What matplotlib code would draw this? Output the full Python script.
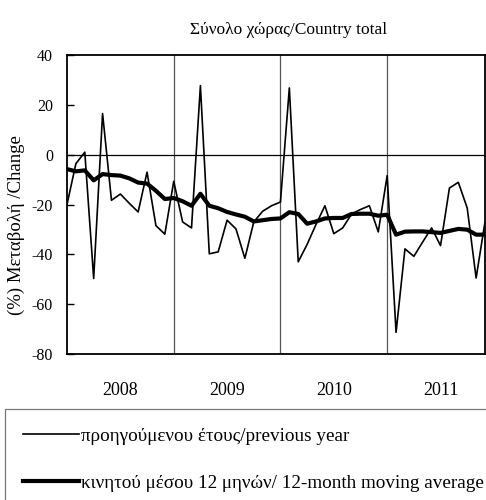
import matplotlib.pyplot as plt
from matplotlib.lines import Line2D

plt.rcParams['font.family'] = ['Liberation Serif', 'DejaVu Serif']

# monthly data, Jan 2008 .. Dec 2011
years = ['2008', '2009', '2010', '2011']
prev_year = [-20, -3.6, 1, -49.7, 16.5, -18.3, -15.8, -19.5, -23, -7, -28.5, -31.9,
             -10.7, -27, -29.4, 27.7, -39.8, -39, -26.3, -29.8, -41.6, -27, -22.7, -20.5,
             -19, 26.8, -43, -36, -28, -20.5, -31.7, -29.4, -23.8, -22, -20.5, -31,
             -8.4, -71.3, -37.8, -40.8, -35, -29.4, -36.5, -13.4, -11.1, -21.4, -49.5, -27]
moving_avg = [-5.8, -6.7, -6.3, -10.3, -7.8, -8.2, -8.4, -9.5, -11.2, -11.6, -14.5, -17.8,
              -17.4, -18.7, -20.5, -15.7, -20.5, -21.5, -23, -24, -24.9, -26.8, -26.3, -25.8,
              -25.6, -23.1, -23.8, -27.7, -26.8, -25.6, -25.4, -25.4, -23.8, -23.7, -23.7, -24.5,
              -24.1, -32.1, -30.9, -30.8, -30.8, -31.1, -31.4, -30.6, -29.8, -30.1, -32.1, -32.1]
yticks = [40, 20, 0, -20, -40, -60, -80]

x = list(range(len(prev_year)))

fig = plt.figure(figsize=(4.86, 5.0), dpi=100)
ax = fig.add_axes([67 / 486, 146 / 500, 418 / 486, 299 / 500])

ax.plot(x, prev_year, color='black', linewidth=1.2)
ax.plot(x, moving_avg, color='black', linewidth=3)
ax.axhline(0, color='black', linewidth=0.9)

ax.set_xlim(0, len(x) - 1)
ax.set_ylim(-80, 40)
ax.set_yticks(yticks)
ax.set_yticklabels([str(v) for v in yticks], fontsize=11.5)
ax.tick_params(axis='y', direction='in', length=5, width=1, pad=10)

# year separators and centred year labels
ax.set_xticks([12, 24, 36])
ax.set_xticklabels([])
ax.set_xticks([6, 18, 30, 42], minor=True)
ax.set_xticklabels(years, minor=True, fontsize=13)
ax.tick_params(axis='x', which='both', length=0)
ax.tick_params(axis='x', which='minor', pad=20)
ax.grid(axis='x', which='major', color='#555555', linewidth=0.9)

for s in ax.spines.values():
    s.set_linewidth(1.3)

ax.set_title('Σύνολο χώρας/Country total', fontsize=12.5, pad=15, x=0.53)
ax.text(-0.122, 0.43, '(%) Μεταβολή /Change', rotation=90, fontsize=13.5,
        transform=ax.transAxes, ha='center', va='center')

handles = [Line2D([], [], color='black', linewidth=1.2),
           Line2D([], [], color='black', linewidth=3)]
labels = ['προηγούμενου έτους/previous year',
          'κινητού μέσου 12 μηνών/ 12-month moving average']
leg = fig.legend(handles, labels, loc='upper left', bbox_to_anchor=(5 / 486, 1 - 409 / 500),
                 fontsize=13.8, frameon=True, fancybox=False, edgecolor='#555555',
                 handlelength=2.9, handletextpad=0.1, labelspacing=1.55,
                 borderpad=0.95, borderaxespad=0)
leg.get_frame().set_linewidth(0.9)

plt.savefig('out.png', dpi=100)
